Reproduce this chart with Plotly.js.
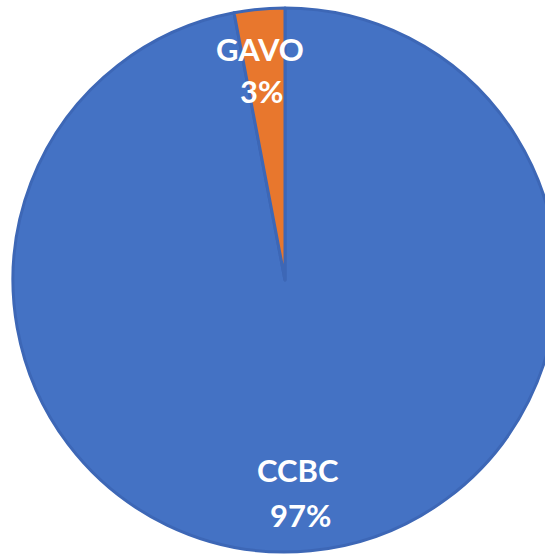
<!DOCTYPE html>
<html>
<head>
<meta charset="utf-8">
<script src="https://cdn.plot.ly/plotly-3.0.1.min.js"></script>
<style>
html,body{margin:0;padding:0;overflow:hidden;background:#fff;}
#chart{width:570px;height:555px;}
</style>
</head>
<body>
<div id="chart"></div>
<script>
const labels = ["CCBC", "GAVO"];
const values = [97, 3];
const colors = ["#4472C4", "#E8772D"];

const total = values.reduce((a, b) => a + b, 0);
const pct = values.map(v => Math.round(v / total * 100) + "%");

// label positions (paper coords) for name and percent lines
const namePos = [[0.524, 0.151], [0.454, 0.925]];
const pctPos = [[0.529, 0.068], [0.456, 0.848]];

const annotations = [];
labels.forEach((l, i) => {
  annotations.push({text: "<b>" + l + "</b>", x: namePos[i][0], y: namePos[i][1], xref: "paper", yref: "paper",
    showarrow: false, xanchor: "center", yanchor: "middle", font: {family: "Lato, 'Open Sans', sans-serif", size: 31, color: "#ffffff"}});
  annotations.push({text: "<b>" + pct[i] + "</b>", x: pctPos[i][0], y: pctPos[i][1], xref: "paper", yref: "paper",
    showarrow: false, xanchor: "center", yanchor: "middle", font: {family: "Lato, 'Open Sans', sans-serif", size: 31, color: "#ffffff"}});
});

Plotly.newPlot("chart", [{
  type: "pie",
  labels: labels,
  values: values,
  sort: false,
  direction: "clockwise",
  rotation: 0,
  textinfo: "none",
  hoverinfo: "label+percent",
  marker: {colors: colors, line: {color: "#3D67B6", width: 3}}
}], {
  width: 570,
  height: 555,
  margin: {l: 13, r: 13, t: 8, b: 3},
  showlegend: false,
  paper_bgcolor: "#ffffff",
  annotations: annotations
}, {displayModeBar: false, staticPlot: true});
</script>
</body>
</html>
